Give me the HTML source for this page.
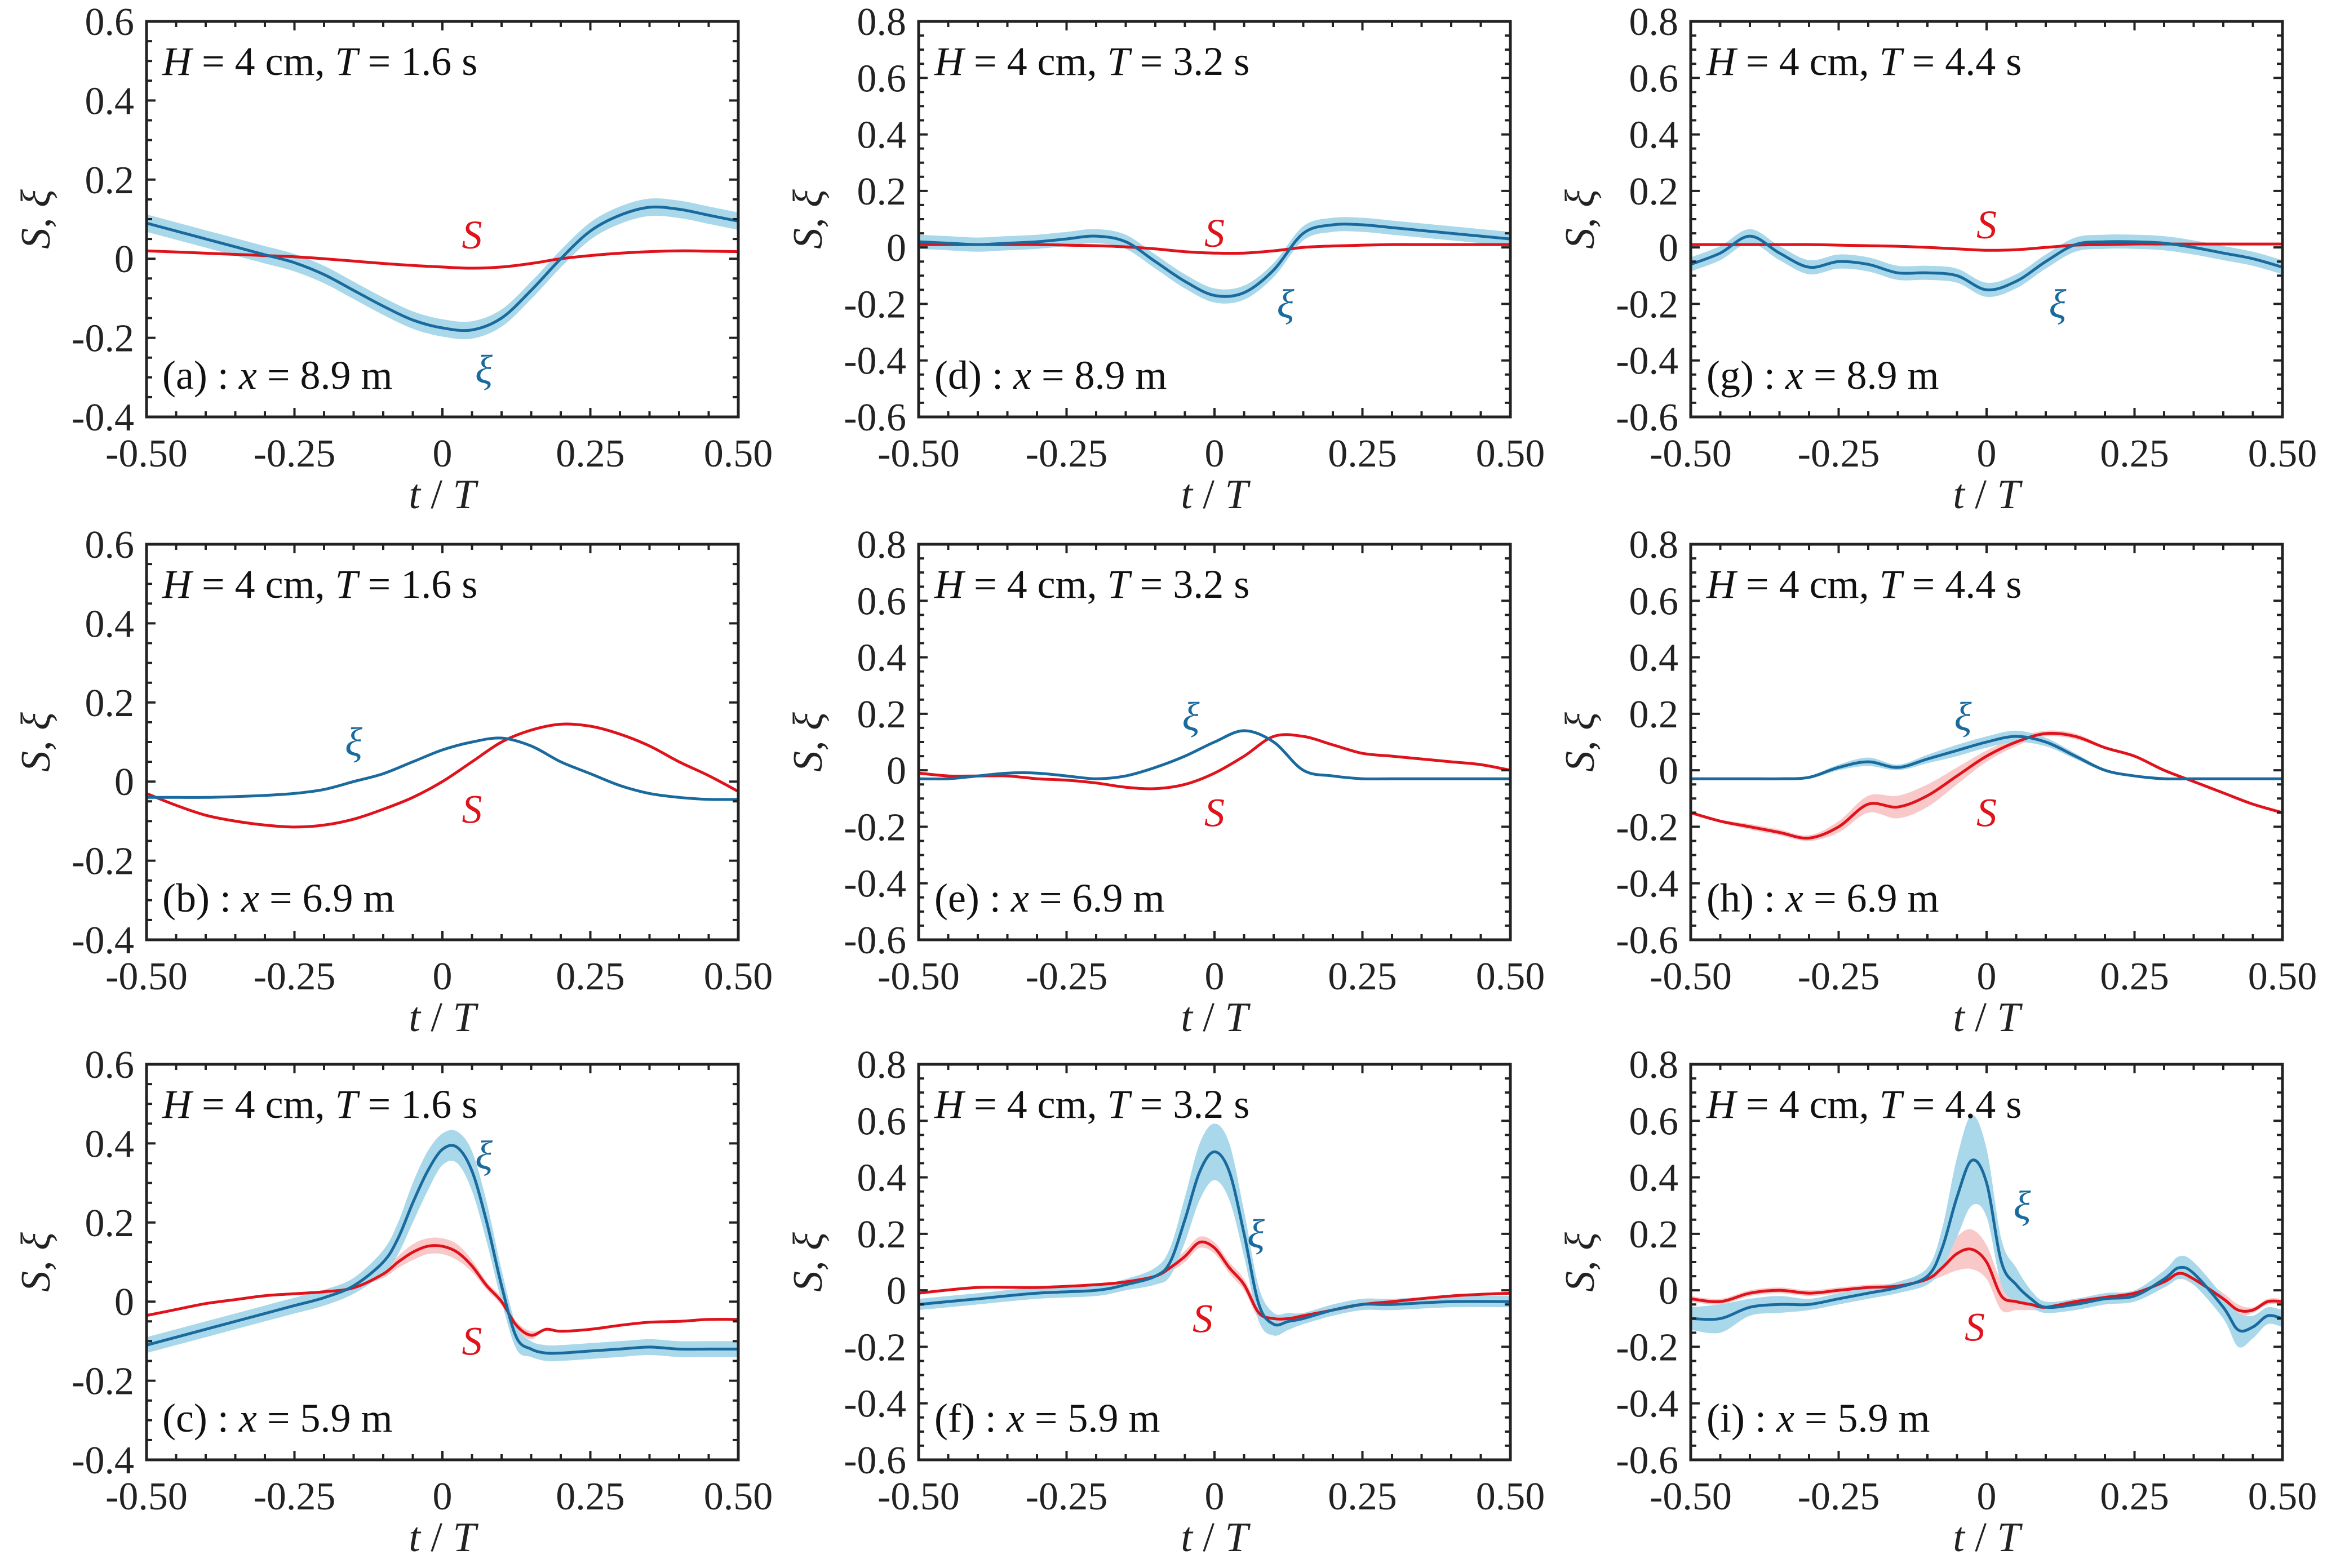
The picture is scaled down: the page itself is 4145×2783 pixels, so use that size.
<!DOCTYPE html>
<html><head><meta charset="utf-8">
<style>
html,body{margin:0;padding:0;background:#fff;}
svg{display:block;}
text{font-family:"Liberation Serif","DejaVu Serif",serif;}
</style></head>
<body>
<svg id="fig" width="4145" height="2783" viewBox="0 0 4145 2783" xmlns="http://www.w3.org/2000/svg"></svg>
<script>
// ---- data (t/T grid and values) ----
const tA = [-0.5,-0.45,-0.4,-0.35,-0.3,-0.25,-0.2,-0.15,-0.1,-0.05,0,0.05,0.1,0.15,0.2,0.25,0.3,0.35,0.4,0.45,0.5];
const sA = [0.02,0.017,0.014,0.011,0.008,0.005,0.0,-0.006,-0.012,-0.017,-0.021,-0.024,-0.021,-0.012,0.0,0.008,0.014,0.018,0.02,0.019,0.018];
const xiA = [0.09,0.07,0.05,0.03,0.01,-0.01,-0.04,-0.08,-0.12,-0.155,-0.175,-0.18,-0.15,-0.08,0.0,0.07,0.11,0.13,0.125,0.11,0.095];
const tB = tA;
const sB = [-0.03,-0.06,-0.085,-0.1,-0.11,-0.115,-0.11,-0.095,-0.07,-0.04,0.0,0.05,0.1,0.13,0.145,0.14,0.12,0.09,0.05,0.015,-0.025];
const xiB = [-0.04,-0.04,-0.04,-0.038,-0.035,-0.03,-0.02,0.0,0.02,0.05,0.08,0.1,0.11,0.09,0.05,0.02,-0.01,-0.03,-0.04,-0.045,-0.045];
const tC = [-0.5,-0.45,-0.4,-0.35,-0.3,-0.25,-0.2,-0.15,-0.1,-0.075,-0.05,-0.025,0,0.025,0.05,0.075,0.1,0.125,0.15,0.175,0.2,0.25,0.3,0.35,0.4,0.45,0.5];
const sC = [-0.035,-0.02,-0.005,0.005,0.015,0.02,0.025,0.035,0.07,0.1,0.125,0.14,0.14,0.125,0.09,0.04,0.0,-0.06,-0.085,-0.07,-0.075,-0.07,-0.06,-0.052,-0.05,-0.045,-0.045];
const xiC = [-0.11,-0.09,-0.07,-0.05,-0.03,-0.01,0.01,0.04,0.1,0.16,0.25,0.33,0.385,0.39,0.33,0.2,0.04,-0.09,-0.12,-0.13,-0.13,-0.125,-0.12,-0.115,-0.12,-0.12,-0.12];
const tD = tA;
const sD = [0.01,0.01,0.01,0.01,0.01,0.008,0.006,0.002,-0.005,-0.015,-0.02,-0.02,-0.012,0.0,0.005,0.008,0.01,0.01,0.01,0.01,0.01];
const xiD = [0.02,0.015,0.01,0.015,0.02,0.03,0.04,0.02,-0.05,-0.12,-0.17,-0.16,-0.08,0.05,0.08,0.08,0.07,0.06,0.05,0.04,0.03];
const tE = tA;
const sE = [-0.01,-0.02,-0.02,-0.02,-0.03,-0.035,-0.045,-0.06,-0.065,-0.05,-0.01,0.05,0.12,0.12,0.09,0.06,0.05,0.04,0.03,0.02,0.0];
const xiE = [-0.03,-0.03,-0.02,-0.01,-0.01,-0.02,-0.03,-0.02,0.01,0.05,0.1,0.14,0.1,0.0,-0.02,-0.03,-0.03,-0.03,-0.03,-0.03,-0.03];
const tF = [-0.5,-0.4,-0.3,-0.2,-0.15,-0.1,-0.075,-0.05,-0.025,0,0.025,0.05,0.075,0.1,0.125,0.15,0.2,0.25,0.3,0.4,0.5];
const sF = [-0.01,0.01,0.01,0.02,0.03,0.05,0.08,0.12,0.17,0.15,0.08,0.02,-0.08,-0.1,-0.1,-0.09,-0.07,-0.05,-0.04,-0.02,-0.01];
const xiF = [-0.05,-0.03,-0.01,0.0,0.02,0.05,0.1,0.25,0.42,0.49,0.42,0.2,-0.05,-0.12,-0.11,-0.1,-0.07,-0.05,-0.05,-0.04,-0.04];
const tG = tA;
const sG = [0.01,0.01,0.01,0.01,0.01,0.008,0.006,0.004,0.0,-0.005,-0.01,-0.008,0.0,0.008,0.01,0.012,0.012,0.012,0.012,0.012,0.012];
const xiG = [-0.06,-0.02,0.04,-0.02,-0.07,-0.05,-0.06,-0.09,-0.09,-0.1,-0.15,-0.12,-0.05,0.01,0.02,0.02,0.015,0.0,-0.02,-0.04,-0.07];
const tH = tA;
const sH = [-0.15,-0.18,-0.2,-0.22,-0.24,-0.2,-0.12,-0.13,-0.09,-0.02,0.05,0.1,0.13,0.12,0.08,0.05,0.0,-0.04,-0.08,-0.12,-0.15];
const xiH = [-0.03,-0.03,-0.03,-0.03,-0.025,0.01,0.03,0.01,0.04,0.07,0.1,0.12,0.1,0.05,0.0,-0.02,-0.03,-0.03,-0.03,-0.03,-0.03];
const tI = [-0.5,-0.45,-0.4,-0.35,-0.3,-0.25,-0.2,-0.15,-0.1,-0.075,-0.05,-0.025,0,0.025,0.05,0.075,0.1,0.15,0.2,0.25,0.3,0.325,0.35,0.4,0.425,0.45,0.475,0.5];
const sI = [-0.03,-0.04,-0.01,0.0,-0.01,0.0,0.01,0.015,0.04,0.08,0.13,0.145,0.1,-0.02,-0.04,-0.05,-0.06,-0.04,-0.025,-0.01,0.03,0.06,0.04,-0.03,-0.07,-0.07,-0.04,-0.04];
const xiI = [-0.1,-0.1,-0.06,-0.05,-0.05,-0.03,-0.01,0.01,0.05,0.15,0.33,0.46,0.38,0.1,0.02,-0.03,-0.06,-0.05,-0.03,-0.02,0.04,0.08,0.06,-0.06,-0.14,-0.13,-0.09,-0.1];
// band half-widths (std) per point
const bandXiA = tA.map(()=>0.022);
const bandXiC = [0.02,0.02,0.02,0.02,0.02,0.02,0.02,0.02,0.03,0.04,0.05,0.05,0.04,0.04,0.05,0.05,0.04,0.03,0.02,0.02,0.02,0.02,0.02,0.02,0.02,0.02,0.02];
const bandSC = [0,0,0,0,0,0,0,0,0.01,0.015,0.02,0.02,0.02,0.02,0.015,0.01,0.01,0.01,0.01,0,0,0,0,0,0,0,0];
const bandXiD = tD.map(()=>0.025);
const bandXiF = [0.02,0.02,0.02,0.02,0.02,0.03,0.05,0.08,0.1,0.1,0.1,0.08,0.06,0.04,0.03,0.02,0.02,0.02,0.02,0.02,0.02];
const bandSF = [0,0,0,0,0,0.01,0.015,0.02,0.02,0.02,0.02,0.02,0.02,0.015,0.01,0,0,0,0,0,0];
const bandXiG = tG.map(()=>0.025);
const bandXiH = [0.005,0.005,0.005,0.005,0.005,0.01,0.015,0.01,0.015,0.02,0.02,0.02,0.015,0.01,0.005,0.005,0.005,0.005,0.005,0.005,0.005];
const bandSH = [0.005,0.005,0.01,0.01,0.01,0.02,0.03,0.04,0.04,0.03,0.02,0.015,0.01,0.01,0.005,0.005,0.005,0.005,0.005,0.005,0.005];
const bandXiI = [0.04,0.05,0.03,0.03,0.02,0.02,0.02,0.02,0.03,0.07,0.14,0.16,0.12,0.08,0.06,0.03,0.02,0.02,0.02,0.02,0.03,0.04,0.04,0.04,0.06,0.04,0.03,0.03];
const bandSI = [0.01,0.01,0.01,0.01,0.01,0.01,0.01,0.01,0.01,0.03,0.06,0.07,0.06,0.05,0.03,0.02,0.01,0.01,0.01,0.01,0.02,0.02,0.02,0.02,0.02,0.01,0.01,0.01];
const xTicks = [-0.5,-0.25,0,0.25,0.5];
const xTickLabels = ["-0.50","-0.25","0","0.25","0.50"];
const yTicks1 = [-0.4,-0.2,0,0.2,0.4,0.6];
const yTickLabels1 = ["-0.4","-0.2","0","0.2","0.4","0.6"];
const yTicks2 = [-0.6,-0.4,-0.2,0,0.2,0.4,0.6,0.8];
const yTickLabels2 = ["-0.6","-0.4","-0.2","0","0.2","0.4","0.6","0.8"];

const panels = [
 {id:'a',col:0,row:0,T:'1.6',x:'8.9',t:tA,s:sA,xi:xiA,bx:bandXiA,bs:null,sl:[0.05,0.06],xl:[0.07,-0.28]},
 {id:'b',col:0,row:1,T:'1.6',x:'6.9',t:tB,s:sB,xi:xiB,bx:null,bs:null,sl:[0.05,-0.07],xl:[-0.15,0.1]},
 {id:'c',col:0,row:2,T:'1.6',x:'5.9',t:tC,s:sC,xi:xiC,bx:bandXiC,bs:bandSC,sl:[0.05,-0.1],xl:[0.07,0.37]},
 {id:'d',col:1,row:0,T:'3.2',x:'8.9',t:tD,s:sD,xi:xiD,bx:bandXiD,bs:null,sl:[0.0,0.05],xl:[0.12,-0.2]},
 {id:'e',col:1,row:1,T:'3.2',x:'6.9',t:tE,s:sE,xi:xiE,bx:null,bs:null,sl:[0.0,-0.15],xl:[-0.04,0.19]},
 {id:'f',col:1,row:2,T:'3.2',x:'5.9',t:tF,s:sF,xi:xiF,bx:bandXiF,bs:bandSF,sl:[-0.02,-0.1],xl:[0.07,0.2]},
 {id:'g',col:2,row:0,T:'4.4',x:'8.9',t:tG,s:sG,xi:xiG,bx:bandXiG,bs:null,sl:[0.0,0.08],xl:[0.12,-0.2]},
 {id:'h',col:2,row:1,T:'4.4',x:'6.9',t:tH,s:sH,xi:xiH,bx:bandXiH,bs:bandSH,sl:[0.0,-0.15],xl:[-0.04,0.19]},
 {id:'i',col:2,row:2,T:'4.4',x:'5.9',t:tI,s:sI,xi:xiI,bx:bandXiI,bs:bandSI,sl:[-0.02,-0.13],xl:[0.06,0.3]},
];
const colL=[260,1630,3000], W=1050;
const rowT=[38,966,1889], H=702;
const NS='http://www.w3.org/2000/svg';
const fig=document.getElementById('fig');
function mk(tag,attrs,parent){const e=document.createElementNS(NS,tag);for(const k in attrs)e.setAttribute(k,attrs[k]);(parent||fig).appendChild(e);return e;}
function smoothPath(pts){
  let d='M'+pts[0][0].toFixed(1)+','+pts[0][1].toFixed(1);
  for(let i=0;i<pts.length-1;i++){
    const p0=pts[Math.max(0,i-1)],p1=pts[i],p2=pts[i+1],p3=pts[Math.min(pts.length-1,i+2)];
    const c1=[p1[0]+(p2[0]-p0[0])/6,p1[1]+(p2[1]-p0[1])/6];
    const c2=[p2[0]-(p3[0]-p1[0])/6,p2[1]-(p3[1]-p1[1])/6];
    d+=' C'+c1[0].toFixed(1)+','+c1[1].toFixed(1)+' '+c2[0].toFixed(1)+','+c2[1].toFixed(1)+' '+p2[0].toFixed(1)+','+p2[1].toFixed(1);
  }
  return d;
}
panels.forEach(p=>{
  const L=colL[p.col],T=rowT[p.row];
  const ymin=p.col===0?-0.4:-0.6, ymax=p.col===0?0.6:0.8;
  const sx=v=>L+(v+0.5)*W;
  const sy=v=>T+(ymax-v)/(ymax-ymin)*H;
  const g=mk('g',{});
  
  
  const clipId='clip'+p.id;
  const cp=mk('clipPath',{id:clipId},g); mk('rect',{x:L,y:T,width:W,height:H},cp);
  const plot=mk('g',{'clip-path':'url(#'+clipId+')'},g);
  function band(vals,bw,fill,name){
    if(!bw)return;
    const up=p.t.map((t,i)=>[sx(t),sy(vals[i]+bw[i])]);
    const dn=p.t.map((t,i)=>[sx(t),sy(vals[i]-bw[i])]).reverse();
    const d=smoothPath(up)+' L'+smoothPath(dn).slice(1)+' Z';
    const e=mk('path',{d:d,fill:fill,stroke:'none'},plot);
    
    
  }
  band(p.s,p.bs,'#f9c9c9','s-band');
  band(p.xi,p.bx,'#a8d8ea','xi-band');
  const sl=mk('path',{d:smoothPath(p.t.map((t,i)=>[sx(t),sy(p.s[i])])),fill:'none',stroke:'#e0121b','stroke-width':5},plot);
  
  
  const xl=mk('path',{d:smoothPath(p.t.map((t,i)=>[sx(t),sy(p.xi[i])])),fill:'none',stroke:'#1a6a9e','stroke-width':5},plot);
  
  
  const fr=mk('rect',{x:L,y:T,width:W,height:H,fill:'none',stroke:'#222','stroke-width':5},g);
  
  
  let tk='';
  for(let k=0;k<=20;k++){const v=-0.5+k*0.05,x=sx(v),len=(k%5===0)?16:10;tk+=`M${x},${T+H}v${-len}M${x},${T}v${len}`;}
  const ny=Math.round((ymax-ymin)/0.05);
  for(let k=0;k<=ny;k++){const v=ymin+k*0.05,y=sy(v),len=(k%4===0)?16:10;tk+=`M${L},${y}h${len}M${L+W},${y}h${-len}`;}
  mk('path',{d:tk,stroke:'#222','stroke-width':4,fill:'none'},g);
  xTicks.forEach((v,i)=>{const e=mk('text',{x:sx(v),y:T+H+88,'font-size':70,'text-anchor':'middle',fill:'#222'},g);e.textContent=xTickLabels[i];
    
    });
  const yt=p.col===0?yTicks1:yTicks2, ytl=p.col===0?yTickLabels1:yTickLabels2;
  yt.forEach((v,i)=>{const e=mk('text',{x:L-22,y:sy(v)+24,'font-size':70,'text-anchor':'end',fill:'#222'},g);e.textContent=ytl[i];
    
    });
  const xt=mk('text',{x:L+W/2,y:T+H+162,'font-size':74,'text-anchor':'middle',fill:'#222'},g);
  xt.innerHTML='<tspan font-style="italic">t</tspan> / <tspan font-style="italic">T</tspan>';
  
  
  const yl=mk('text',{x:0,y:0,'font-size':74,'text-anchor':'middle',fill:'#222',transform:`translate(${L-172},${T+H/2}) rotate(-90)`},g);
  yl.innerHTML='<tspan font-style="italic">S</tspan>, <tspan font-style="italic">ξ</tspan>';
  
  
  const t1=mk('text',{x:L+28,y:T+95,'font-size':72,fill:'#111'},g);
  t1.innerHTML='<tspan font-style="italic">H</tspan> = 4 cm, <tspan font-style="italic">T</tspan> = '+p.T+' s';
  
  
  const t2=mk('text',{x:L+28,y:T+H-50,'font-size':72,fill:'#111'},g);
  t2.innerHTML='('+p.id+') : <tspan font-style="italic">x</tspan> = '+p.x+' m';
  
  
  const ls=mk('text',{x:sx(p.sl[0]),y:sy(p.sl[1])+24,'font-size':72,'font-style':'italic','text-anchor':'middle',fill:'#e0121b'},g);
  ls.textContent='S';
  
  
  const lx=mk('text',{x:sx(p.xl[0]),y:sy(p.xl[1])+24,'font-size':72,'font-style':'italic','text-anchor':'middle',fill:'#1a6a9e'},g);
  lx.textContent='ξ';
  
  
});
</script>
</body></html>
